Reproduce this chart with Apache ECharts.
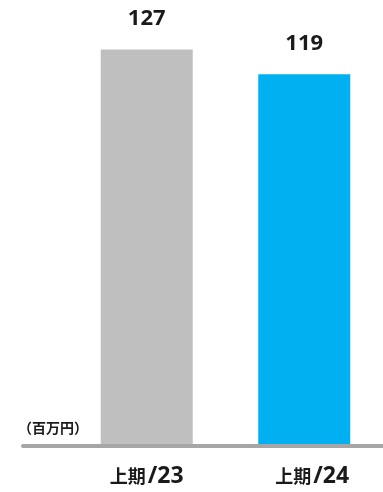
<!DOCTYPE html>
<html>
<head>
<meta charset="utf-8">
<script src="https://cdn.jsdelivr.net/npm/echarts@6/dist/echarts.min.js"></script>
<style>
html,body{margin:0;padding:0;background:#fff;}
#chart{width:383px;height:492px;}
</style>
</head>
<body>
<div id="chart"></div>
<script>
const categories = ['上期/23', '上期/24'];
const values = [127, 119];
const barColors = ['#bfbfbf', '#00b0f0'];
const unitLabel = '（百万円）';

const CJK = '"Noto Sans CJK JP", sans-serif';
const LAT = '"Noto Sans", "Roboto", sans-serif';
const labelShift = [0, 16];

const chart = echarts.init(document.getElementById('chart'), null, {renderer: 'canvas'});
chart.setOption({
  animation: false,
  backgroundColor: '#ffffff',
  grid: [
    {left: 68, width: 320, top: 9, bottom: 48},
    {left: 23, right: 0, top: 9, bottom: 46}
  ],
  xAxis: [
    {
      type: 'category', gridIndex: 0,
      data: categories.map((c, i) => ({value: c, textStyle: {padding: [0, 0, 0, labelShift[i]]}})),
      axisLine: {show: false}, axisTick: {show: false},
      axisLabel: {
        margin: 21,
        formatter: function (v) {
          const k = v.indexOf('/');
          return '{c|' + v.slice(0, k) + '}{l|' + v.slice(k) + '}';
        },
        rich: {
          c: {fontSize: 18, fontWeight: 'bold', color: '#1a1a1a', fontFamily: CJK},
          l: {fontSize: 23, fontWeight: 'bold', color: '#1a1a1a', fontFamily: LAT, padding: [0, 0, 0, 2]}
        }
      }
    },
    {
      type: 'value', gridIndex: 1, min: 0, max: 1, z: 10,
      axisLine: {show: true, lineStyle: {color: '#a6a6a6', width: 4}},
      axisTick: {show: false}, axisLabel: {show: false}, splitLine: {show: false}
    }
  ],
  yAxis: [
    {type: 'value', gridIndex: 0, min: 0, max: 140, show: false, splitLine: {show: false}},
    {type: 'value', gridIndex: 1, show: false, splitLine: {show: false}}
  ],
  graphic: [
    {type: 'text', left: 18, top: 421, style: {text: unitLabel, font: 'bold 14px ' + CJK, fill: '#1a1a1a'}}
  ],
  series: [{
    type: 'bar',
    xAxisIndex: 0, yAxisIndex: 0,
    barWidth: 92,
    data: values.map((v, i) => ({value: v, itemStyle: {color: barColors[i]}})),
    label: {
      show: true, position: 'top', distance: 20,
      fontSize: 22, fontWeight: 'bold', color: '#1a1a1a', fontFamily: LAT
    }
  }]
});
</script>
</body>
</html>
